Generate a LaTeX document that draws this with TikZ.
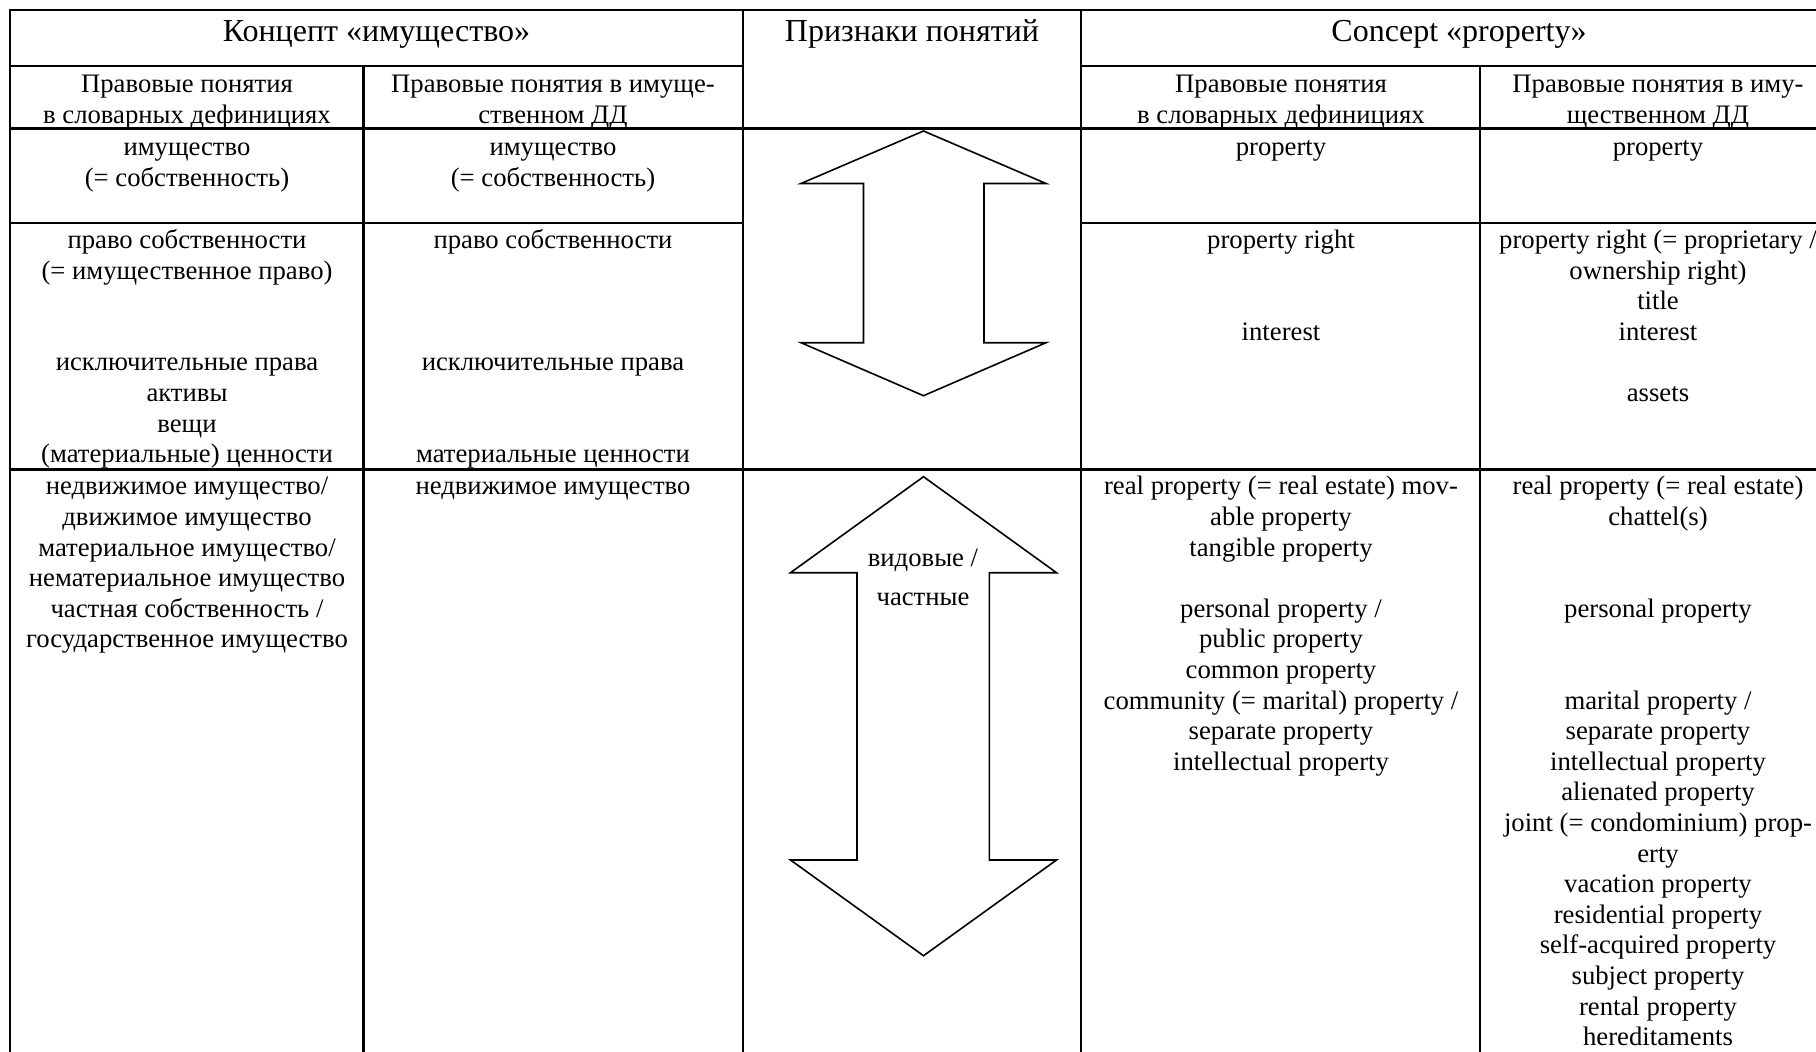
\documentclass[tikz,border=0pt]{standalone}
\usepackage{fontspec}
\setmainfont{Liberation Serif}
\newcommand\cellat[4]{\node[cell] (#1) at (#2,{#3-21.42}) {\strut #4};}
\begin{document}
\begin{tikzpicture}[x=0.5pt,y=-0.5pt,
  grid/.style={line width=1.1pt,line cap=rect},
  arrowshape/.style={line width=0.8pt,line join=miter},
  cell/.style={anchor=north,inner sep=0pt,align=center,font=\fontsize{13.35}{15.3}\selectfont},
  head/.style={anchor=base,inner sep=0pt,font=\fontsize{16}{19}\selectfont},
  lab/.style={anchor=base,inner sep=0pt,font=\fontsize{13.35}{15.3}\selectfont}]
\useasboundingbox (0,0) rectangle (1816,1051);
\fill[white] (0,0) rectangle (1816,1051);
\clip (0,0) rectangle (1816,1051);

% table grid
\draw[grid] (10,10) -- (1850,10);
\draw[grid] (10,10) -- (10,1070);
\draw[grid] (743,10) -- (743,1070);
\draw[grid] (1081,10) -- (1081,1070);
\draw[grid] (363.5,66) -- (363.5,1070);
\draw[grid] (1480,66) -- (1480,1070);
\draw[grid] (10,66) -- (743,66);
\draw[grid] (1081,66) -- (1850,66);
\draw[grid] (10,128.5) -- (1850,128.5);
\draw[grid] (10,223) -- (743,223);
\draw[grid] (1081,223) -- (1850,223);
\draw[grid] (10,469.5) -- (1850,469.5);

% headings
\node[head] (t1) at (376.5,41) {Концепт «имущество»};
\node[head] (t2) at (912,41) {Признаки понятий};
\node[head] (t3) at (1459,41) {Concept «property»};

\cellat{s1}{187}{92.5}{Правовые понятия\\в словарных дефинициях}
\cellat{s2}{553}{92.5}{Правовые понятия в имуще-\\ственном ДД}
\cellat{s4}{1281}{92.5}{Правовые понятия\\в словарных дефинициях}
\cellat{s5}{1658}{92.5}{Правовые понятия в иму-\\щественном ДД}

% row 1
\cellat{a1}{187}{155}{имущество\\(= собственность)}
\cellat{a2}{553}{155}{имущество\\(= собственность)}
\cellat{a4}{1281}{155}{property}
\cellat{a5}{1658}{155}{property}

% row 2
\cellat{b1}{187}{248}{право собственности\\(= имущественное право)\\~\\~\\исключительные права\\активы\\вещи\\(материальные) ценности}
\cellat{b2}{553}{248}{право собственности\\~\\~\\~\\исключительные права\\~\\~\\материальные ценности}
\cellat{b4}{1281}{248}{property right\\~\\~\\interest}
\cellat{b5}{1658}{248}{property right (= proprietary /\\ownership right)\\title\\interest\\~\\assets}

% row 3
\cellat{c1}{187}{494.4}{недвижимое имущество/\\движимое имущество\\материальное имущество/\\нематериальное имущество\\частная собственность /\\государственное имущество}
\cellat{c2}{553}{494.4}{недвижимое имущество}
\cellat{c4}{1281}{494.4}{real property (= real estate) mov-\\able property\\tangible property\\~\\personal property /\\public property\\common property\\community (= marital) property /\\separate property\\intellectual property}
\cellat{c5}{1658}{494.4}{real property (= real estate)\\chattel(s)\\~\\~\\personal property\\~\\~\\marital property /\\separate property\\intellectual property\\alienated property\\joint (= condominium) prop-\\erty\\vacation property\\residential property\\self-acquired property\\subject property\\rental property\\hereditaments}

% upper double arrow
\draw[arrowshape] (923.5,131) -- (1046,183.5) -- (984,183.5) -- (984,342.7) -- (1046,342.7)
  -- (923.5,395.7) -- (801,342.7) -- (863.5,342.7) -- (863.5,183.5) -- (801,183.5) -- cycle;

% lower double arrow
\draw[arrowshape] (923.5,476.7) -- (1056.5,572.7) -- (989.3,572.7) -- (989.3,860) -- (1056.5,860)
  -- (923.5,955.7) -- (790.5,860) -- (857,860) -- (857,572.7) -- (790.5,572.7) -- cycle;
\node[lab] (v1) at (923,566) {видовые /};
\node[lab] (v2) at (923,605) {частные};
\end{tikzpicture}
\end{document}
